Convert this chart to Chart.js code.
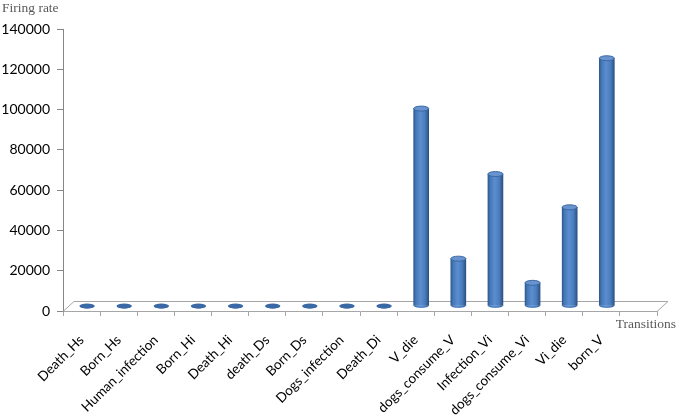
<!DOCTYPE html>
<html>
<head>
<meta charset="utf-8">
<script src="https://cdn.jsdelivr.net/npm/chart.js@4.4.0/dist/chart.umd.min.js"></script>
<style>
  body { margin: 0; background: #fff; }
  #wrap { width: 680px; height: 415px; }
</style>
</head>
<body>
<div id="wrap"><canvas id="myChart" width="680" height="415"></canvas></div>
<script>
// data
var transitions = ['Death_Hs', 'Born_Hs', 'Human_infection', 'Born_Hi', 'Death_Hi',
  'death_Ds', 'Born_Ds', 'Dogs_infection', 'Death_Di', 'V_die', 'dogs_consume_V',
  'Infection_Vi', 'dogs_consume_Vi', 'Vi_die', 'born_V', ''];
var firingRate = [0, 0, 0, 0, 0, 0, 0, 0, 0, 98000, 23500, 65500, 11500, 49000, 123000, null];
var rateTicks = [0, 20000, 40000, 60000, 80000, 100000, 120000, 140000];

var yTitle = 'Firing rate';
var xTitle = 'Transitions';

// 3d floor depth
var depth = { dx: 11, dy: -10 };

var ctx = document.getElementById('myChart').getContext('2d');

function barFill(context) {
  var chart = context.chart;
  var sx = chart.scales.x;
  if (!sx || context.type !== 'data') return '#4f81bd';
  var cx = sx.getPixelForValue(context.dataIndex);
  if (!isFinite(cx)) return '#4f81bd';
  var g = chart.ctx.createLinearGradient(cx - 7.5, 0, cx + 7.5, 0);
  g.addColorStop(0, '#2d5a90');
  g.addColorStop(0.15, '#4677b6');
  g.addColorStop(0.45, '#5b8ed0');
  g.addColorStop(0.75, '#4b7dbd');
  g.addColorStop(1, '#2a5283');
  return g;
}

var cylinder = {
  id: 'cylinder',
  beforeDatasetsDraw: function (chart) {
    var a = chart.chartArea, c = chart.ctx;
    c.save();
    c.strokeStyle = '#a6a6a6';
    c.lineWidth = 1;
    c.beginPath();
    c.moveTo(a.left, a.bottom + 0.5);
    c.lineTo(a.left + depth.dx, a.bottom + depth.dy + 0.5);
    c.lineTo(a.right + depth.dx, a.bottom + depth.dy + 0.5);
    c.lineTo(a.right, a.bottom + 0.5);
    c.stroke();
    c.restore();
    // bars sit in the middle of the floor
    c.save();
    c.translate(depth.dx / 2, depth.dy / 2);
  },
  afterDatasetsDraw: function (chart) {
    var c = chart.ctx;
    chart.getDatasetMeta(0).data.forEach(function (bar, i) {
      if (firingRate[i] === null) return;
      var rx = bar.width / 2, ry = 2.5;
      var flat = Math.abs(bar.base - bar.y) < 1;
      c.fillStyle = flat ? '#3a69a6' : barFill({ chart: chart, type: 'data', dataIndex: i });
      c.beginPath();
      c.ellipse(bar.x, bar.base, rx, ry, 0, 0, Math.PI);
      c.fill();
      c.beginPath();
      c.ellipse(bar.x, bar.y, rx, ry, 0, 0, 2 * Math.PI);
      c.fillStyle = flat ? '#3a69a6' : '#6893cf';
      c.fill();
      if (!flat) {
        c.strokeStyle = '#3b68a2';
        c.lineWidth = 1;
        c.stroke();
      }
    });
    c.restore();
  },
  afterDraw: function (chart) {
    var a = chart.chartArea, c = chart.ctx;
    c.save();
    c.font = '13.5px "Liberation Serif", serif';
    c.fillStyle = '#595959';
    c.textBaseline = 'middle';
    c.textAlign = 'left';
    c.fillText(yTitle, 2, 8);
    c.textAlign = 'right';
    c.fillText(xTitle, a.right + 19, a.bottom + 13);
    c.restore();
  }
};

var data = {
  labels: transitions,
  datasets: [{
    label: yTitle,
    data: firingRate,
    backgroundColor: barFill,
    borderWidth: 0,
    barThickness: 15
  }]
};

var config = {
  type: 'bar',
  data: data,
  options: {
    responsive: false,
    animation: false,
    layout: { padding: { top: 29, right: 23, left: 0, bottom: 0 } },
    plugins: {
      legend: { display: false },
      tooltip: { enabled: false }
    },
    scales: {
      x: {
        grid: { offset: true, drawOnChartArea: false, tickLength: 5, color: '#a6a6a6' },
        border: { color: '#a6a6a6' },
        ticks: {
          autoSkip: false,
          minRotation: 45,
          maxRotation: 45,
          padding: 16,
          color: '#000',
          font: { family: 'Lato', size: 13.5 }
        },
        afterFit: function (s) { s.height = 104; }
      },
      y: {
        min: 0,
        max: 140000,
        afterBuildTicks: function (s) {
          s.ticks = rateTicks.map(function (v) { return { value: v }; });
        },
        grid: { drawOnChartArea: false, tickLength: 6, color: '#868686' },
        border: { color: '#868686' },
        ticks: {
          padding: 7,
          color: '#000',
          font: { family: 'Lato', size: 14 },
          callback: function (v) { return String(v); }
        },
        afterFit: function (s) { s.width = 63; }
      }
    }
  },
  plugins: [cylinder]
};

var myChart = new Chart(ctx, config);
</script>
</body>
</html>
